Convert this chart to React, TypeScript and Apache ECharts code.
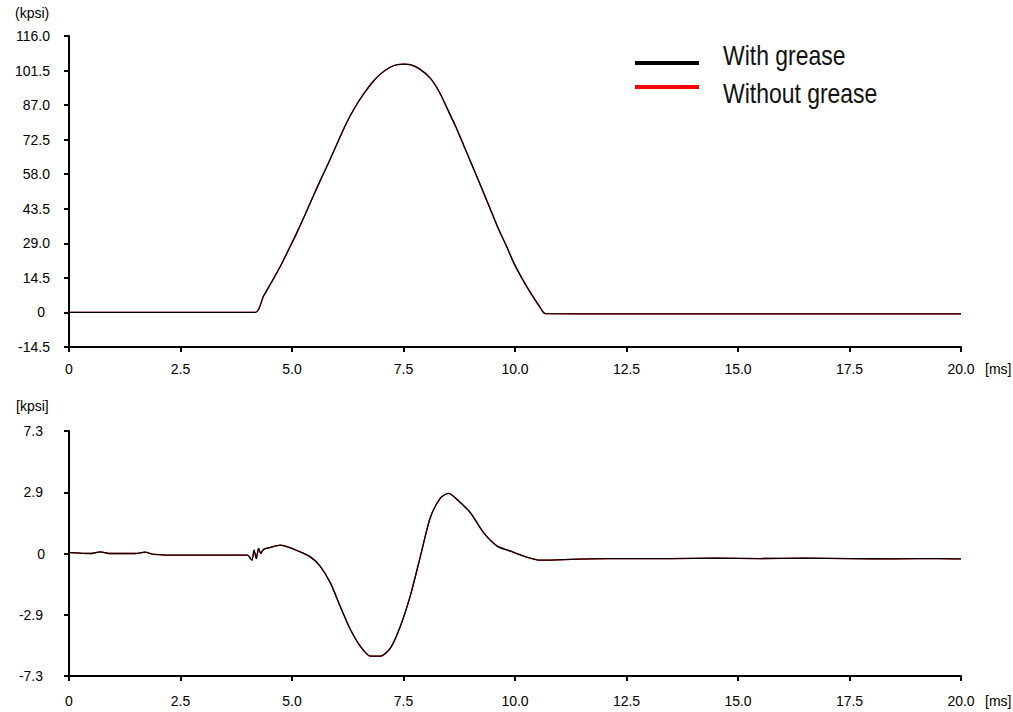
import React, { useEffect, useRef } from "react";
import * as echarts from "echarts";

// ---- tick labels ----
const xTicks = ["0", "2.5", "5.0", "7.5", "10.0", "12.5", "15.0", "17.5", "20.0"];
const topYTicks = ["-14.5", "0", "14.5", "29.0", "43.5", "58.0", "72.5", "87.0", "101.5", "116.0"];
const bottomYTicks = ["-7.3", "-2.9", "0", "2.9", "7.3"];

// ---- top panel (stress, kpsi) vs time (ms) ----
const topTime = [0, 2.0, 4.18, 4.36, 4.55, 4.74, 4.92, 5.11, 5.3, 5.48, 5.67, 5.86, 6.05, 6.23, 6.42, 6.61, 6.8, 6.98, 7.2, 7.36, 7.5, 7.65, 7.85, 8.1, 8.3, 8.48, 8.67, 8.85, 9.04, 9.23, 9.42, 9.6, 9.8, 9.97, 10.16, 10.35, 10.55, 10.68, 12.0, 15.0, 18.0, 20.0];
const topWithGrease = [0, 0, 0, 6.8, 13.0, 19.4, 26.2, 33.5, 41.3, 49.0, 56.8, 64.5, 72.5, 79.8, 86.3, 91.8, 96.5, 100.0, 102.9, 104.0, 104.2, 104.0, 102.3, 98.3, 92.6, 85.6, 78.0, 70.1, 61.7, 53.2, 44.6, 36.3, 28.2, 20.9, 14.2, 8.2, 2.5, -0.5, -0.6, -0.6, -0.6, -0.6];
const topWithoutGrease = [0, 0, 0, 6.8, 13.0, 19.4, 26.2, 33.5, 41.3, 49.0, 56.8, 64.5, 72.5, 79.8, 86.3, 91.8, 96.5, 100.0, 102.9, 104.0, 104.2, 104.0, 102.3, 98.3, 92.6, 85.6, 78.0, 70.1, 61.7, 53.2, 44.6, 36.3, 28.2, 20.9, 14.2, 8.2, 2.5, -0.5, -0.6, -0.6, -0.6, -0.6];

// ---- bottom panel (kpsi) vs time (ms) ----
const bottomTime = [0, 0.5, 0.7, 0.9, 1.5, 1.7, 1.9, 2.5, 3.0, 3.5, 4.0, 4.1, 4.15, 4.2, 4.25, 4.3, 4.36, 4.5, 4.74, 4.9, 5.11, 5.41, 5.63, 5.86, 6.08, 6.31, 6.53, 6.76, 6.98, 7.21, 7.43, 7.65, 7.88, 8.1, 8.33, 8.51, 8.7, 9.0, 9.3, 9.6, 9.9, 10.2, 10.57, 11.1, 11.7, 12.5, 13.5, 14.5, 15.5, 16.5, 17.5, 18.5, 19.5, 20.0];
const bottomWithGrease = [0.05, 0.0, 0.1, 0.0, 0.0, 0.08, -0.05, -0.1, -0.1, -0.1, -0.1, -0.4, 0.2, -0.3, 0.3, 0.0, 0.24, 0.35, 0.5, 0.4, 0.18, -0.2, -0.75, -1.75, -3.14, -4.53, -5.52, -6.12, -6.12, -5.62, -4.33, -2.54, -0.16, 2.13, 3.32, 3.58, 3.22, 2.43, 1.23, 0.44, 0.14, -0.16, -0.4, -0.36, -0.32, -0.3, -0.3, -0.28, -0.3, -0.28, -0.3, -0.32, -0.3, -0.32];
const bottomWithoutGrease = [0.05, 0.0, 0.1, 0.0, 0.0, 0.08, -0.05, -0.1, -0.1, -0.1, -0.1, -0.4, 0.2, -0.3, 0.3, 0.0, 0.24, 0.35, 0.5, 0.4, 0.18, -0.2, -0.75, -1.75, -3.14, -4.53, -5.52, -6.12, -6.12, -5.62, -4.33, -2.54, -0.16, 2.13, 3.32, 3.58, 3.22, 2.43, 1.23, 0.44, 0.14, -0.16, -0.4, -0.36, -0.32, -0.3, -0.3, -0.28, -0.3, -0.28, -0.3, -0.32, -0.3, -0.32];

const legendNames = ["With grease", "Without grease"];

const FONT = "'Liberation Sans', Arial, sans-serif";
const FS = 14;

const zip = (t: number[], v: number[]) => t.map((x, i) => [x, v[i]]);

export default function App() {
  const ref = useRef<HTMLDivElement>(null);
  useEffect(() => {
    if (!ref.current) return;
    const chart = echarts.init(ref.current, undefined, { renderer: "svg" });

    const labelRich = (padRight: number, zeroPad: number) => ({
      a: { fontSize: FS, fontFamily: FONT, color: "#000", padding: [0, padRight, 0, 0] },
      z: { fontSize: FS, fontFamily: FONT, color: "#000", padding: [0, zeroPad, 0, 0] },
    });

    const xAxis = [0, 1].map((i) => ({
      type: "value",
      gridIndex: i,
      min: 0,
      max: 20,
      interval: 2.5,
      axisLine: { onZero: false, lineStyle: { color: "#000", width: 2 } },
      axisTick: { show: true, length: 5, lineStyle: { color: "#000", width: 2 } },
      splitLine: { show: false },
      axisLabel: {
        margin: i === 0 ? 15 : 18,
        color: "#000",
        fontSize: FS,
        fontFamily: FONT,
        formatter: (v: number) => xTicks[Math.round(v / 2.5)],
      },
    }));

    const lineSeries = (name: string, data: number[][], idx: number, color: string, z: number) => ({
      name,
      type: "line",
      xAxisIndex: idx,
      yAxisIndex: idx,
      data,
      showSymbol: false,
      symbol: "none",
      smooth: 0.25,
      z,
      lineStyle: { color, width: 1.3 },
      itemStyle: { color },
    });

    chart.setOption({
      animation: false,
      backgroundColor: "#fff",
      grid: [
        { left: 69, top: 36, width: 892, height: 311 },
        { left: 69, top: 431, width: 892, height: 245 },
      ],
      xAxis,
      yAxis: [
        {
          type: "value",
          gridIndex: 0,
          min: -14.5,
          max: 116,
          interval: 14.5,
          axisLine: { show: true, onZero: false, lineStyle: { color: "#000", width: 2 } },
          axisTick: { show: true, length: 5, lineStyle: { color: "#000", width: 2 } },
          splitLine: { show: false },
          axisLabel: {
            margin: 19,
            color: "#000",
            fontSize: FS,
            fontFamily: FONT,
            formatter: (v: number) => {
              const s = topYTicks[Math.round((v + 14.5) / 14.5)];
              return s === "0" ? `{z|${s}}` : `{a|${s}}`;
            },
            rich: labelRich(0, 5),
          },
        },
        {
          type: "value",
          gridIndex: 1,
          min: -7.3,
          max: 7.3,
          interval: 3.65,
          axisLine: { show: true, onZero: false, lineStyle: { color: "#000", width: 2 } },
          axisTick: { show: true, length: 5, lineStyle: { color: "#000", width: 2 } },
          splitLine: { show: false },
          axisLabel: {
            margin: 24,
            color: "#000",
            fontSize: FS,
            fontFamily: FONT,
            formatter: (v: number) => {
              const s = bottomYTicks[Math.round((v + 7.3) / 3.65)];
              return s === "0" ? `{z|${s}}` : `{a|${s}}`;
            },
            rich: labelRich(2, 0),
          },
        },
      ],
      series: [
        lineSeries(legendNames[1], zip(topTime, topWithoutGrease), 0, "#ff0000", 2),
        lineSeries(legendNames[0], zip(topTime, topWithGrease), 0, "#000000", 3),
        lineSeries(legendNames[1], zip(bottomTime, bottomWithoutGrease), 1, "#ff0000", 2),
        lineSeries(legendNames[0], zip(bottomTime, bottomWithGrease), 1, "#000000", 3),
      ],
      graphic: [
        { type: "text", left: 15, top: 6, style: { text: "(kpsi)", font: `${FS}px ${FONT}`, fill: "#000" } },
        { type: "text", left: 16, top: 399, style: { text: "[kpsi]", font: `${FS}px ${FONT}`, fill: "#000" } },
        { type: "text", left: 985, top: 362, style: { text: "[ms]", font: `${FS}px ${FONT}`, fill: "#000" } },
        { type: "text", left: 985, top: 694, style: { text: "[ms]", font: `${FS}px ${FONT}`, fill: "#000" } },
        { type: "rect", shape: { x: 635, y: 61, width: 64, height: 4 }, style: { fill: "#000" } },
        { type: "rect", shape: { x: 635, y: 85, width: 64, height: 4 }, style: { fill: "#ff0000" } },
        { type: "text", x: 723, y: 55, scaleX: 0.82, style: { text: legendNames[0], font: `28px ${FONT}`, fill: "#111", textVerticalAlign: "middle" } },
        { type: "text", x: 723, y: 93, scaleX: 0.82, style: { text: legendNames[1], font: `28px ${FONT}`, fill: "#111", textVerticalAlign: "middle" } },
      ],
    });
    return () => chart.dispose();
  }, []);
  return <div ref={ref} style={{ position: "fixed", left: 0, top: 0, width: 1013, height: 712 }} />;
}
